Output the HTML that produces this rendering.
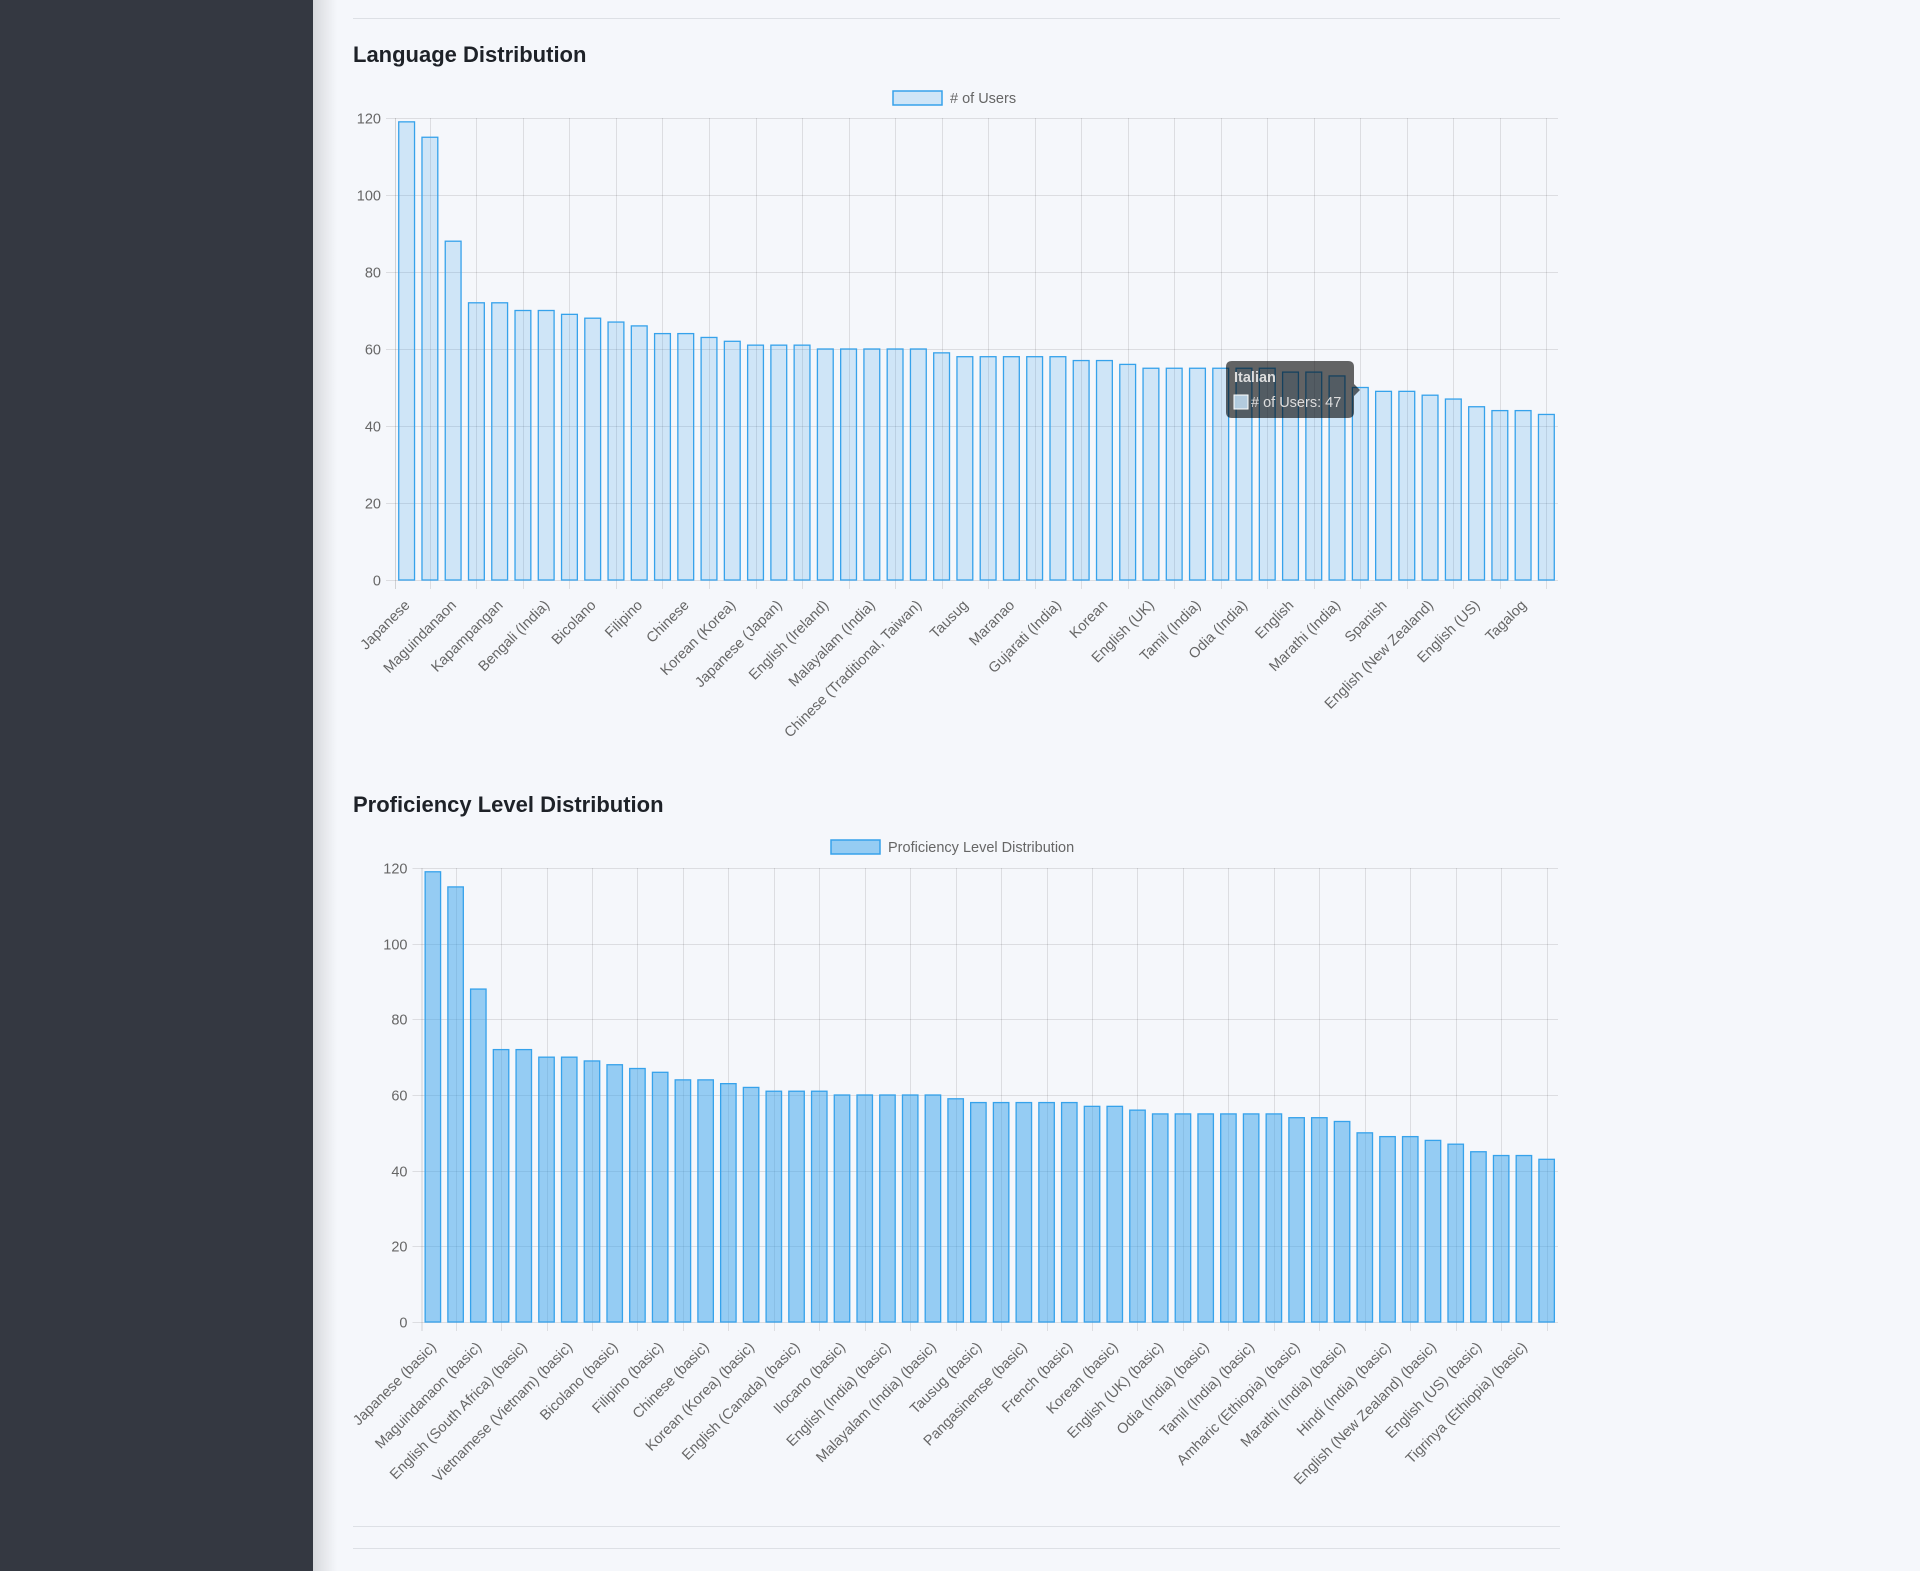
<!DOCTYPE html>
<html><head><meta charset="utf-8">
<style>
html,body{margin:0;padding:0;}
body{width:1920px;height:1571px;background:#f5f7fb;position:relative;overflow:hidden;font-family:"Liberation Sans",sans-serif;}
#sidebar{position:absolute;left:0;top:0;width:313px;height:1571px;background:#343841;}
#shadow{position:absolute;left:313px;top:0;width:24px;height:1571px;background:linear-gradient(to right,rgba(0,0,0,0.12),rgba(0,0,0,0));}
svg{position:absolute;left:0;top:0;}
</style></head>
<body>
<div id="sidebar"></div>
<div id="shadow"></div>
<svg id="main" width="1920" height="1571"></svg>
<script>
const langCategories = ["Japanese","Tagalog (Philippines)","Maguindanaon","Cebuano","Kapampangan","Hiligaynon","Bengali (India)","Waray","Bicolano","Ilocano","Filipino","Pangasinense","Chinese","Vietnamese","Korean (Korea)","English (Canada)","Japanese (Japan)","English (India)","English (Ireland)","Chinese (Simplified)","Malayalam (India)","English (South Africa)","Chinese (Traditional, Taiwan)","Thai","Tausug","French","Maranao","German","Gujarati (India)","Portuguese","Korean","Hindi (India)","English (UK)","Kannada (India)","Tamil (India)","Telugu (India)","Odia (India)","Amharic (Ethiopia)","English","Punjabi (India)","Marathi (India)","Urdu","Spanish","English (Australia)","English (New Zealand)","Italian","English (US)","Tigrinya (Ethiopia)","Tagalog","Indonesian"];
const langValues = [119,115,88,72,72,70,70,69,68,67,66,64,64,63,62,61,61,61,60,60,60,60,60,59,58,58,58,58,58,57,57,56,55,55,55,55,55,55,54,54,53,50,49,49,48,47,45,44,44,43];
const profCategories = ["Japanese (basic)","Tagalog (basic)","Maguindanaon (basic)","Cebuano (basic)","English (South Africa) (basic)","Hiligaynon (basic)","Vietnamese (Vietnam) (basic)","Waray (basic)","Bicolano (basic)","Kapampangan (basic)","Filipino (basic)","Thai (basic)","Chinese (basic)","Bengali (India) (basic)","Korean (Korea) (basic)","Japanese (Japan) (basic)","English (Canada) (basic)","English (Ireland) (basic)","Ilocano (basic)","Chinese (Simplified) (basic)","English (India) (basic)","Maranao (basic)","Malayalam (India) (basic)","German (basic)","Tausug (basic)","Gujarati (India) (basic)","Pangasinense (basic)","Portuguese (basic)","French (basic)","Kannada (India) (basic)","Korean (basic)","Telugu (India) (basic)","English (UK) (basic)","English (basic)","Odia (India) (basic)","Punjabi (India) (basic)","Tamil (India) (basic)","Urdu (basic)","Amharic (Ethiopia) (basic)","Spanish (basic)","Marathi (India) (basic)","English (Australia) (basic)","Hindi (India) (basic)","Italian (basic)","English (New Zealand) (basic)","Indonesian (basic)","English (US) (basic)","Malay (basic)","Tigrinya (Ethiopia) (basic)","Tagalog (Philippines) (basic)"];
const profValues = [119,115,88,72,72,70,70,69,68,67,66,64,64,63,62,61,61,61,60,60,60,60,60,59,58,58,58,58,58,57,57,56,55,55,55,55,55,55,54,54,53,50,49,49,48,47,45,44,44,43];
const yTicks = [0,20,40,60,80,100,120];

const NS="http://www.w3.org/2000/svg";
const svg=document.getElementById('main');
function mk(tag,attrs,parent){const e=document.createElementNS(NS,tag);for(const k in attrs)e.setAttribute(k,attrs[k]);(parent||svg).appendChild(e);return e;}

let l1=mk('line',{x1:353,y1:18.5,x2:1560,y2:18.5,stroke:'#dde0e5','stroke-width':1});


let l2=mk('line',{x1:353,y1:1526.5,x2:1560,y2:1526.5,stroke:'#dde0e5','stroke-width':1});


let l3=mk('line',{x1:353,y1:1548.5,x2:1560,y2:1548.5,stroke:'#dde0e5','stroke-width':1});



function drawChart(o){
  const g=mk('g',{});
  
  
  const t=mk('text',{x:353,y:o.titleY,'font-size':22,'font-weight':'bold',fill:'#1e2228'},g);
  t.textContent=o.title;
  
  
  const lg=mk('g',{},g);
  
  
  mk('rect',{x:o.legX,y:o.legY-7,width:49,height:14,fill:o.fill,stroke:'rgb(54,162,235)','stroke-width':1.5},lg);
  const lt=mk('text',{x:o.legX+57,y:o.legY+5,'font-size':14.5,fill:'#666'},lg);
  lt.textContent=o.legend;
  const n=o.cats.length;
  const L=o.left,R=1558,T=o.top,B=o.bottom;
  const pitch=(R-L)/n;
  const yS=v=>B-(v/120)*(B-T);
  const xC=i=>L+pitch*(i+0.5);
  yTicks.forEach(v=>{
    const y=Math.round(yS(v))+0.5;
    mk('line',{x1:L-9,y1:y,x2:R,y2:y,stroke:'rgba(0,0,0,0.1)'},g);
    const tx=mk('text',{x:L-14,y:y+5,'font-size':14.5,fill:'#666','text-anchor':'end'},g);
    tx.textContent=v;
    
    
  });
  mk('line',{x1:L+0.5,y1:T,x2:L+0.5,y2:B+9,stroke:'rgba(0,0,0,0.15)'},g);
  for(let i=1;i<n;i+=2){
    const x=Math.round(xC(i))+0.5;
    mk('line',{x1:x,y1:T,x2:x,y2:B+9,stroke:'rgba(0,0,0,0.1)'},g);
  }
  const bw=pitch*0.68;
  o.vals.forEach((v,i)=>{
    const r=mk('rect',{x:xC(i)-bw/2,y:yS(v),width:bw,height:B-yS(v),fill:o.fill,stroke:'rgb(54,162,235)','stroke-width':1.3},g);
    
    
  });
  o.cats.forEach((c,i)=>{
    if(i%2)return;
    const x=xC(i)+4,y=B+26;
    const tx=mk('text',{x:x,y:y,'font-size':14.5,fill:'#666','text-anchor':'end',transform:`rotate(-45 ${x} ${y})`},g);
    tx.textContent=c;
    
    
  });
  return g;
}
drawChart({name:'language-chart',title:'Language Distribution',titleY:62,legend:'# of Users',legX:893,legY:98,fill:'rgba(54,162,235,0.2)',cats:langCategories,vals:langValues,left:395,top:118,bottom:580});
drawChart({name:'proficiency-chart',title:'Proficiency Level Distribution',titleY:812,legend:'Proficiency Level Distribution',legX:831,legY:847,fill:'rgba(54,162,235,0.5)',cats:profCategories,vals:profValues,left:421.5,top:868,bottom:1322});

const tt=mk('g',{});


mk('path',{d:'M1232 361 H1348 Q1354 361 1354 367 V384 L1360 390 L1354 396 V412 Q1354 418 1348 418 H1232 Q1226 418 1226 412 V367 Q1226 361 1232 361 Z',fill:'rgba(0,0,0,0.6)'},tt);
const t1=mk('text',{x:1234,y:382,'font-size':14.5,'font-weight':'bold',fill:'#ddd'},tt);
t1.textContent='Italian';
mk('rect',{x:1234,y:395,width:14,height:14,fill:'rgba(190,215,235,0.9)',stroke:'#fff','stroke-width':1},tt);
const t2=mk('text',{x:1251,y:407,'font-size':14.5,fill:'#ddd'},tt);
t2.textContent='# of Users: 47';
</script>
</body></html>
